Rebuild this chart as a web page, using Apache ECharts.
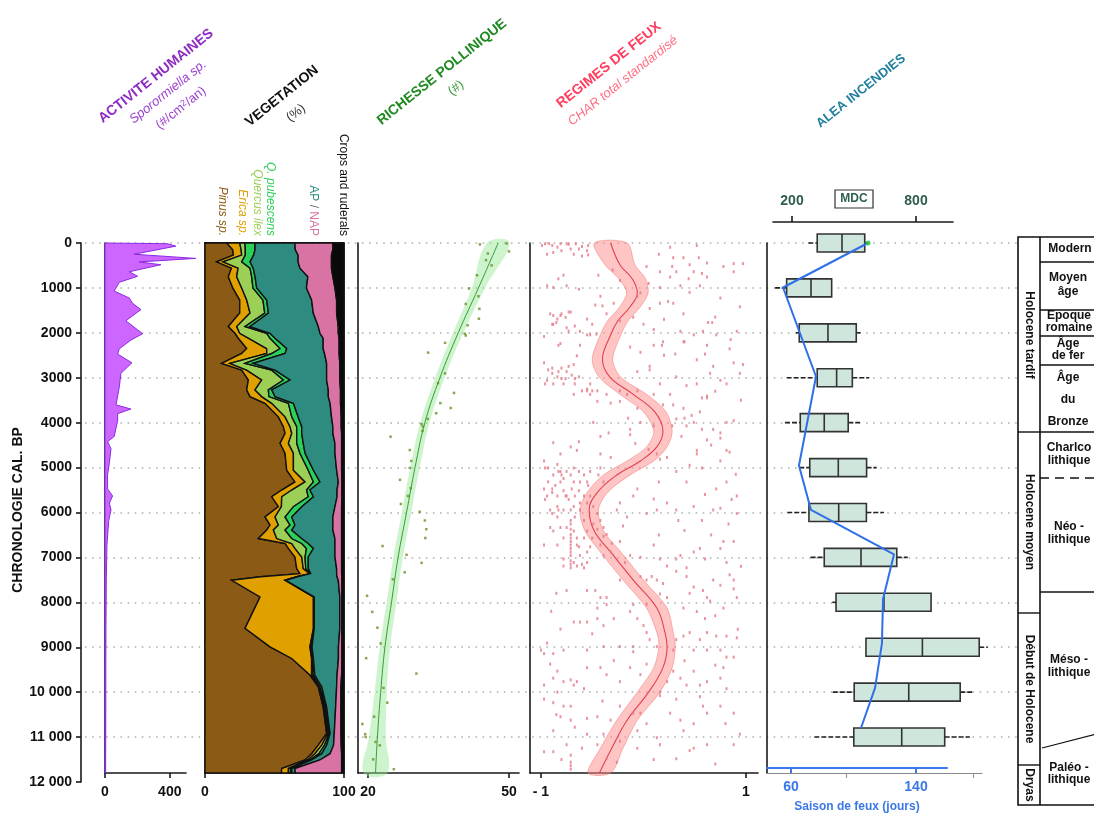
<!DOCTYPE html>
<html><head><meta charset="utf-8">
<script src="https://cdn.jsdelivr.net/npm/echarts@6.0.0/dist/echarts.min.js"></script>
<style>html,body{margin:0;padding:0;background:#fff}#c{width:1094px;height:818px}</style>
</head><body><div id="c"></div>
<script>
// ---------------- DATA ----------------
const chronoTicks = [0,1000,2000,3000,4000,5000,6000,7000,8000,9000,10000,11000,12000];

// Sporormiella sp. (#/cm2/an)
const sporAge = [0,16,70,250,343,421,484,640,741,874,1069,1225,1342,1482,1732,2020,2161,2356,2473,2668,2902,3214,3604,3697,3799,3955,4306,4423,4579,4891,5164,5476,5632,5788,5944,6178,6724,7500,8500,9500,10500,11500,11800];
const sporVal = [0,386,437,180,560,211,345,150,201,88,57,150,170,222,129,232,160,88,78,166,98,88,68,160,78,78,57,16,37,27,16,16,47,27,37,23,12,8,6,5,5,4,4];

// Vegetation (%), cumulative upper limit of each stacked taxon
const vegAge      = [0,150,270,420,560,750,1000,1270,1560,1860,2010,2120,2350,2460,2680,2830,3050,3270,3420,3570,3870,4090,4240,4460,4680,5060,5320,5500,5650,5870,6100,6280,6390,6580,6690,6800,6990,7250,7360,7430,7510,7880,8580,8990,9250,9620,9880,10330,10920,11180,11370,11510,11700,11800];
const pinusTop    = [15.6,20,20.4,8.4,19,16.8,20,25,25,16.8,21.6,24,30,26.4,12,26.4,31.2,30,32.4,43.2,52.8,56.4,57.6,54,57.6,58.8,64.7,55.2,48,52.8,43.2,46.8,44.4,38.4,57.6,60,64.7,66,68.3,40,19.2,39.6,28.8,46.8,62.4,75.5,81.5,85,87.5,81.5,76.7,72,55.2,55];
const ericaTop    = [25,26,26.4,13,23.8,22.8,26.4,30,32.4,22.8,25,31.2,44.4,44.4,18,30,40.8,36,40.8,48,57.6,61.2,62.4,60,63.6,63.6,72,62.4,55.2,55,50.4,52.8,49.2,51.6,62.4,64.7,69.6,70.7,75.5,66,57.6,78,78,75.5,76.7,76.7,82,86,88.5,84,79,74,60,60];
const qIlexTop    = [28.8,29,29,26.4,32.4,33.6,34.5,41.7,43,28.8,44.4,46.8,54,48,28.8,48,56.4,45.6,46,60,62.4,66,66,66,68.3,74.3,78,73.1,74.3,63.6,57.6,61.2,57.6,62.4,69.6,73,72,72.5,75.8,66.3,57.9,78.3,78.3,76.5,77.5,77.8,82.7,86.8,89.3,86,82,75.5,61.5,61.5];
const qPubTop     = [36,36,35,32.4,34.7,36,37.2,44.4,45.6,32.4,46.8,50.4,58.8,57.6,34.7,50.4,61.2,48,50.4,63.6,67,69.6,69.6,70.7,72,78,82.7,75.5,78,69.6,62.4,64.7,62.4,69.6,74.3,78,74.3,74.3,76,66.6,58.2,78.6,78.6,77,78,79,84,87.5,90,87.5,84,76.7,62.4,62.4];
const apTop       = [64.7,65,67,67,68.3,74,73,76.7,77.9,81.5,82.7,85,85,86,87.5,87.5,87.5,88.7,88.7,90,91,92,92,93.5,93.5,94.7,95.9,95,95,93.5,92,92,92,93.5,93.5,93.5,93.5,94.7,94.7,95,95.9,97,97,96,96,95,94.7,94,93,92.5,90,82.7,64.7,65];
const napTop      = [92,92,91,91,91,92,93.5,94.7,94.7,95.9,95.9,96.5,96.5,96.5,97,97,97,97.5,97.5,97.5,98,98,98.3,98.3,98.3,98.3,98.5,98.5,98.5,98.3,98.3,98.3,98.3,98.3,98.3,98.3,98.3,98.3,98.3,98.5,98.5,98.5,98.5,98.5,98.5,98.3,97.8,97.8,97.8,98,98.3,98.3,98.3,98.3];

// Richesse pollinique (#)
const richAge  = [0,1000,2000,3000,4000,5000,6000,7000,8000,9000,10000,11000,11800];
const richFit  = [47.7,43.5,39.2,35.3,32.1,30.0,28.2,26.4,25.0,23.6,22.7,22.0,21.6];
const richLow  = [45.3,42.1,38.1,34.3,31.1,29.0,27.2,25.4,23.95,22.5,21.4,20.2,19.1];
const richHigh = [50.1,44.9,40.3,36.3,33.1,31.0,29.2,27.4,26.05,24.7,24.0,23.8,24.1];
const richPoints = [[43.8,31],[49.5,10],[50.0,187],[45.5,234],[45.1,382],[46.3,499],[43.2,718],[41.5,1014],[43.5,1186],[40.8,1357],[43.7,1466],[43.6,1685],[41.2,1833],[40.6,2020],[40.8,2059],[36.4,2223],[32.8,2441],[36.4,2902],[34.9,3120],[38.3,3338],[35.4,3565],[37.6,3674],[34.5,3791],[32.7,3916],[31.4,4033],[31.7,4087],[31.6,4181],[24.8,4313],[28.9,4610],[29.2,4852],[28.9,5008],[26.8,5273],[29.1,5460],[28.5,5632],[27.0,5811],[31.0,5983],[32.1,6178],[32.4,6373],[32.2,6568],[23.1,6747],[28.2,6942],[31.4,7121],[27.8,7332],[25.3,7488],[19.8,7855],[20.9,8213],[22.0,8564],[22.7,8915],[19.6,9243],[30.3,9586],[23.3,9906],[24.1,10234],[21.3,10546],[18.8,10709],[19.4,10936],[19.5,10998],[21.6,11107],[22.5,11185],[21.1,11497],[25.5,11716]];

// Regimes de feux: CHAR total standardise
const fireAge  = [0,484,796,1108,1420,1732,2044,2590,2980,3370,3760,4189,4540,4852,5164,5554,5944,6412,6880,7504,8128,8674,8986,9454,10000,10624,11248,11800];
const fireFit  = [-0.32,-0.23,-0.11,-0.06,-0.13,-0.25,-0.32,-0.40,-0.33,-0.10,0.11,0.19,0.13,-0.03,-0.26,-0.45,-0.53,-0.48,-0.32,-0.10,0.13,0.21,0.23,0.19,0.05,-0.16,-0.31,-0.43];
const fireLow  = [-0.48,-0.376,-0.24,-0.165,-0.23,-0.35,-0.42,-0.50,-0.435,-0.23,0.0,0.10,0.03,-0.16,-0.39,-0.55,-0.62,-0.57,-0.42,-0.20,0.03,0.13,0.15,0.10,-0.06,-0.26,-0.42,-0.54];
const fireHigh = [-0.16,-0.084,0.02,0.045,-0.03,-0.15,-0.22,-0.30,-0.225,0.03,0.22,0.28,0.23,0.10,-0.13,-0.35,-0.44,-0.39,-0.22,0.0,0.23,0.29,0.31,0.28,0.16,-0.06,-0.20,-0.32];
const charPoints = [
[-0.96,16],[-0.89,55],[-0.81,16],[-0.73,31],[-0.71,133],[-0.80,172],[-0.88,211],[-0.94,250],[-0.68,250],[-0.60,289],[-0.54,265],[-0.60,78],[-0.78,718],[-0.83,796],[-0.94,952],[-0.88,991],[-0.75,952],[-0.63,1030],[-0.44,718],[-0.23,835],[0.26,94],[0.29,328],[0.39,328],[0.45,484],[0.54,328],[0.62,445],[0.78,523],[0.88,460],[0.97,460],[0.16,640],[0.26,757],[0.32,640],[0.49,640],[0.57,679],[0.62,757],[0.88,640],[0.03,523],[0.15,250],[0.28,523],[0.44,796],[0.75,1225],[0.55,952],[0.36,952],[0.16,991],
[-0.42,1186],[-0.47,1381],[-0.36,1576],[-0.55,1693],[-0.62,1966],[-0.71,1537],[-0.76,1654],[-0.81,1615],[-0.88,1615],[-0.89,1810],[-0.85,1771],[-0.75,1888],[-0.67,1849],[-0.97,2083],[-0.81,2239],[-0.73,1966],[-0.50,1810],[-0.52,2044],[-0.46,2028],[-0.29,1342],[-0.23,1732],[-0.10,1654],[-0.06,1186],[-0.03,1108],[0.06,1459],[0.16,1342],[0.24,1303],[0.29,1342],[0.39,1576],[0.63,1771],[0.67,1771],[0.94,1420],[0.71,2044],[0.58,1966],[0.40,2200],[0.49,2044],[0.19,2200],[0.10,2278],[0.36,1966],[0.91,1966],[0.0,1810],[0.10,1927],
[-0.83,2278],[-0.62,2278],[-0.55,2044],[-0.13,2317],[-0.03,2434],[0.18,2278],[0.31,2473],[0.39,2200],[0.60,2473],[0.84,2356],[0.62,2278],[-0.06,2863],[0.06,2746],[-0.65,2512],[-0.68,2707],[-0.73,2746],[-0.84,2980],[-0.89,2902],[-0.94,3058],[-0.80,3019],[-0.78,3136],[-0.88,3136],[-0.96,3136],[-0.70,2941],[-0.67,3019],[-0.60,3292],[-0.52,3136],[-0.50,3292],[-0.45,3526],[-0.36,3370],[-0.23,3292],[-0.16,3370],[0.06,2824],[0.16,3136],[0.32,2980],[0.42,3175],[0.52,3136],[0.65,2902],[0.75,3058],[0.81,3136],[0.94,2902],[0.97,2707],[0.88,2668],[0.68,2746],[0.57,3448],[0.62,3409],[0.26,3370],[0.10,3370],[-0.06,3292],
[-0.55,3253],[-0.32,3565],[-0.23,3526],[-0.06,3682],[0.19,3604],[0.29,3604],[0.39,3682],[0.47,3838],[0.55,3760],[0.49,3994],[0.62,3448],[0.68,4150],[0.75,4228],[0.81,3994],[0.88,3955],[0.42,4072],[0.37,4306],[0.32,3916],[0.57,4150],[0.28,4072],[0.10,4072],[-0.03,3994],[-0.13,4150],[-0.49,3994],[-0.34,4228],[-0.42,4306],[-0.63,4423],[-0.71,4540],[-0.81,4696],[-0.88,4446],[-0.65,4618],[-0.13,4267],[-0.08,4462],[0.75,4345],[0.81,4618],[0.52,4696],[0.23,4774],
[-0.97,4852],[-0.93,5008],[-0.84,4930],[-0.83,5086],[-0.80,5164],[-0.75,5086],[-0.71,5164],[-0.68,5008],[-0.63,5086],[-0.58,5164],[-0.55,5320],[-0.52,5086],[-0.42,5008],[-0.32,4774],[-0.42,4696],[-0.44,5164],[-0.39,5320],[0.13,4696],[0.16,4813],[0.52,4618],[0.62,4384],[0.84,4657],[0.75,4852],[0.42,5320],[0.32,5086],[0.15,5320],[-0.06,5476],[0.57,5008],[0.71,5476],[0.81,5320],[0.91,5632],[0.86,5710],
[-0.97,5476],[-0.94,5632],[-0.96,5710],[-0.89,5554],[-0.84,5632],[-0.86,5398],[-0.81,5320],[-0.78,5515],[-0.75,5632],[-0.68,5320],[-0.62,5320],[-0.54,5398],[-0.84,5866],[-0.83,5944],[-0.91,5944],[-0.89,6022],[-0.91,6334],[-0.88,6412],[-0.78,5944],[-0.71,5944],[-0.71,6178],[-0.71,6373],[-0.71,6568],[-0.67,6100],[-0.62,5788],[-0.58,6178],[-0.49,5866],[-0.45,6022],[-0.42,6178],[-0.39,6334],[-0.36,6490],[-0.26,5944],[-0.23,5788],[-0.16,6100],[-0.10,5632],[0.03,6022],[0.13,5944],[0.23,5788],[0.32,5944],[0.34,6178],[0.49,5866],[0.57,6178],[0.68,5944],[0.75,5905],[0.83,6256],[0.91,6022],
[-0.97,6724],[-0.84,6724],[-0.71,6724],[-0.71,6880],[-0.71,7075],[-0.71,7231],[-0.78,7036],[-0.68,7114],[-0.65,6568],[-0.63,6763],[-0.62,6958],[-0.60,7153],[-0.58,7231],[-0.55,6880],[-0.52,6763],[-0.50,6568],[-0.45,6373],[-0.39,6529],[-0.32,6880],[-0.31,6685],[-0.23,6646],[-0.18,7114],[-0.13,6958],[-0.03,6997],[0.10,6724],[0.16,7036],[0.23,7192],[0.32,7036],[0.36,6958],[0.42,7231],[0.49,6880],[0.60,7036],[0.75,6802],[0.78,6646],[0.81,7114],[0.88,6646],[0.84,7387],[0.88,7504],
[-0.71,6256],[-0.71,6490],[-0.71,6646],[-0.71,6802],[-0.71,6958],[-0.71,7153],
[-0.75,7738],[-0.55,7738],[-0.47,7738],[-0.42,7894],[-0.36,7894],[-0.36,8050],[-0.45,8128],[-0.23,7504],[-0.03,7426],[0.03,7504],[0.08,7426],[0.13,7504],[0.19,7582],[0.32,7309],[0.42,7426],[0.49,7660],[0.58,7738],[0.62,7894],[0.65,7972],[0.68,7504],[0.75,7621],[0.88,7699],[0.91,7894],[0.16,7816],[0.23,7894],[-0.10,8050],[0.03,8050],[0.39,8128],[0.52,8206],[0.60,8362],[0.78,8128],[-0.81,8596],[-0.62,8440],
[-0.94,8908],[-0.68,8440],[-0.55,8440],[-0.45,8362],[-0.39,8518],[-0.29,8362],[-0.13,8206],[-0.06,8362],[0.0,8518],[0.03,8674],[0.06,8830],[0.13,8986],[0.32,8830],[0.39,8752],[0.45,8674],[0.55,8830],[0.62,8674],[0.71,8752],[0.81,8752],[0.91,8791],[0.29,9064],[0.49,9064],[0.62,9064],[0.75,9064],[0.88,9220],[0.78,9454],[-1.0,9064],[-0.88,9142],[-0.78,9064],[-0.55,9064],[-0.39,8986],[-0.23,8986],[-0.10,8986],
[-0.97,9142],[-0.91,9376],[-0.84,9532],[-0.97,9844],[-0.88,9688],[-0.78,9766],[-0.71,9727],[-0.65,9766],[-0.68,9844],[-0.84,10000],[-0.58,9922],[-0.55,9454],[-0.42,9454],[-0.36,9610],[-0.29,9298],[-0.23,9766],[-0.13,9454],[-0.03,9610],[0.03,9376],[0.29,9532],[0.36,9688],[0.42,9844],[0.49,9532],[0.55,9844],[0.62,9766],[0.75,9688],[0.81,9922],[0.81,9220],[0.23,9766],[0.16,10000],
[-0.97,10156],[-0.88,10234],[-0.78,10312],[-0.71,10312],[-0.81,10546],[-0.88,10858],[-0.71,10624],[-0.67,10780],[-0.55,10585],[-0.45,10546],[-0.39,10936],[-0.32,10624],[-0.23,10312],[-0.10,10468],[-0.03,10468],[0.03,10702],[0.16,10078],[0.26,10468],[0.32,10156],[0.36,10624],[0.49,10702],[0.58,10312],[0.62,10468],[0.75,10312],[0.88,10468],[0.94,10936],[0.13,11014],[0.39,10858],[-0.06,10858],[-0.55,10936],
[-0.97,11326],[-0.88,11326],[-0.75,11170],[-0.71,11404],[-0.71,11560],[-0.71,11716],[-0.71,11638],[-0.60,11248],[-0.45,11170],[-0.36,11482],[-0.23,11092],[-0.06,11248],[0.16,11170],[0.32,11482],[0.49,11248],[0.62,11170],[-0.26,11560],[0.88,11170],
[-0.99,55],[-0.92,16],[-0.84,94],[-0.75,16],[-0.66,16],[-0.63,133],[-0.55,172],[-0.54,55],[0.52,55],
[-0.91,1576],[-0.88,1810],[-0.84,1693],[-0.80,1576],[-0.73,1537],
[-0.97,2668],[-0.93,2824],[-0.89,2785],[-0.83,2863],[-0.80,2785],[-0.76,3019],[-0.75,2863],[-0.67,3136],[-0.63,2980],[-0.55,3292],[-0.52,3370],[-0.45,3292],[-0.68,3370],
[-0.96,5008],[-0.93,5320],[-0.89,5476],[-0.88,5164],[-0.81,5086],[-0.78,5242],[-0.76,5632],[-0.73,5710],[-0.70,5476],[-0.67,5632],[-0.63,5515],[-0.58,5632],[-0.55,5788],[-0.52,5632],[-0.62,5944],[-0.68,5866],
[-0.84,6100],[-0.81,6334],[-0.78,6568],[-0.75,6334],[-0.68,6412],[-0.65,6724],[-0.58,6568],[-0.55,6412],[-0.49,6256],[-0.42,6724],[-0.39,6958],[-0.78,7192],[-0.65,7192],[-0.55,7114],
[0.45,1100],[0.70,1650],[0.85,2150],[0.52,2600],[0.70,3300],[0.95,3500],[0.40,3900],[0.66,4500],[0.45,4950],[0.90,5150],[0.60,5600],[0.40,6400],[0.66,6500],[0.55,6800],[0.95,7200],[0.45,7800],[0.70,8300],[0.92,8600],[0.40,9300],[0.70,9400],[0.55,10100],[0.80,10700],[0.45,11300],[0.70,11600],[-0.10,9100],[-0.40,10200],[-0.85,10500],[-0.80,11500],[-0.50,8700],[-0.90,8200],[-0.85,7800],[0.10,11500],[-0.15,3900],[-0.40,1400],[-0.30,600],[0.05,900],[0.20,1700],[0.20,2500],[0.05,4600],[0.10,5700],[-0.20,6300],[0.15,6500]];

// Alea incendies: MDC boxplots per millennium
const boxAge = [0,1000,2000,3000,4000,5000,6000,7000,8000,9000,10000,11000];
const boxMin = [279,118,219,174,166,235,177,290,395,558,397,308];
const boxQ1  = [322,174,235,322,240,286,282,356,413,558,501,499];
const boxMed = [442,292,374,416,356,424,426,534,645,831,765,731];
const boxQ3  = [552,392,511,492,472,561,560,707,873,1106,1014,939];
const boxMax = [560,392,532,574,529,610,645,760,873,1147,1077,1061];
// Saison de feux (jours)
const seasonAge  = [0,1000,3000,5000,6000,7000,8000,9000,10000,10900];
const seasonDays = [109.3,54.9,76.0,65.1,72.8,125.9,118.9,118.2,113.8,104.8];

// ---------------- CHART ----------------
const FONT = '"Liberation Sans", Arial, Helvetica, sans-serif';
const chart = echarts.init(document.getElementById('c'), null, {renderer:'canvas'});

const grids = [
  {left:81,  top:243, width:1,   height:539}, //0 chronology
  {left:85,  top:243, width:932, height:494}, //1 dotted background
  {left:105, top:243, width:81,  height:530}, //2 sporormiella
  {left:205, top:243, width:139, height:530}, //3 vegetation
  {left:358, top:243, width:161, height:530}, //4 richesse
  {left:530, top:243, width:228, height:530}, //5 feux
  {left:767, top:243, width:243, height:530}, //6 boxes (MDC)
  {left:767, top:243, width:180, height:530}, //7 saison (days)
  {left:767, top:243, width:215, height:530}, //8 grey axis
  {left:773, top:222, width:180, height:551}  //9 MDC top axis
];

const blackLine = {show:true, onZero:false, lineStyle:{color:'#1a1a1a', width:1.6}};
function panelY(g, extra){ return Object.assign({gridIndex:g, type:'value', inverse:true, min:0, max:11800,
  axisLine:blackLine, axisTick:{show:false}, axisLabel:{show:false}, splitLine:{show:false}}, extra||{}); }
function bottomX(g, min, max, vals, extra){
  return Object.assign({gridIndex:g, type:'value', min, max, position:'bottom',
    axisLine:blackLine,
    axisTick:{show:true, length:5, customValues:vals, lineStyle:{color:'#1a1a1a', width:1.6}},
    axisLabel:{show:true, customValues:vals, color:'#111', fontSize:14, fontWeight:'bold', fontFamily:FONT, margin:12},
    splitLine:{show:false}}, extra||{});
}
const hiddenX = (g,min,max)=>({gridIndex:g, type:'value', min, max, show:false});
const hiddenY = (g,min,max)=>({gridIndex:g, type:'value', inverse:true, min, max, show:false});

const xAxis = [
  hiddenX(0,0,1),                                        //0
  hiddenX(1,0,1),                                        //1
  bottomX(2,0,500,[0,400]),                              //2
  bottomX(3,0,100,[0,100]),                              //3
  bottomX(4,17.87,52.13,[20,50]),                        //4
  bottomX(5,-1.107,1.117,[-1,1],{axisLabel:{show:true, customValues:[-1,1], color:'#111', fontSize:14, fontWeight:'bold', fontFamily:FONT, margin:12,
      formatter:v=> v<0 ? '- '+Math.abs(v) : String(v)}}),  //5
  hiddenX(6,79,1255),                                    //6
  bottomX(7,44.64,159.84,[60,140],{z:3,
      axisLine:{show:true,onZero:false,lineStyle:{color:'#3b78e7',width:2}},
      axisTick:{show:true,length:5,customValues:[60,140],lineStyle:{color:'#3b78e7',width:2}},
      axisLabel:{show:true,customValues:[60,140],color:'#3b78e7',fontSize:14,fontWeight:'bold',fontFamily:FONT,margin:12},
      name:'Saison de feux (jours)', nameLocation:'middle', nameGap:33,
      nameTextStyle:{color:'#3b78e7', fontSize:12, fontWeight:'bold', fontFamily:FONT}}), //7
  bottomX(8,44.64,182.24,[95.2,176.5],{z:1,
      axisLine:{show:true,onZero:false,lineStyle:{color:'#888',width:1.2}},
      axisTick:{show:true,length:5,customValues:[95.2,176.5],lineStyle:{color:'#999',width:1.2}},
      axisLabel:{show:false}}),                          //8
  {gridIndex:9, type:'value', min:108.1, max:979, position:'top',
      axisLine:{show:true,onZero:false,lineStyle:{color:'#1a1a1a',width:1.6}},
      axisTick:{show:true,length:6,customValues:[200,800],lineStyle:{color:'#1a1a1a',width:1.6}},
      axisLabel:{show:true,customValues:[200,800],color:'#2e5e4e',fontSize:14,fontWeight:'bold',fontFamily:FONT,margin:14},
      splitLine:{show:false}},                           //9
  {gridIndex:3, type:'value', min:0, max:100, position:'top',
      axisLine:{show:true,onZero:false,lineStyle:{color:'#111',width:2.2,type:[5,2]}},
      axisTick:{show:false}, axisLabel:{show:false}, splitLine:{show:false}} //10 dashed top of vegetation
];

const yAxis = [
  {gridIndex:0, type:'value', inverse:true, min:0, max:12000, interval:1000, position:'left',
    axisLine:blackLine, axisTick:{show:true, length:5, lineStyle:{color:'#1a1a1a', width:1.6}},
    axisLabel:{color:'#111', fontSize:14, fontWeight:'bold', fontFamily:FONT, margin:9,
      formatter:v=> v>=10000 ? String(v).replace(/(\d+)(\d{3})$/,'$1 $2') : String(v)},
    splitLine:{show:false}},                                  //0
  {gridIndex:1, type:'value', inverse:true, min:0, max:11000, interval:1000,
    axisLine:{show:false}, axisTick:{show:false}, axisLabel:{show:false},
    splitLine:{show:true, lineStyle:{color:'#b0b0b0', width:1.6, type:[1.6,5.5]}}}, //1
  panelY(2), panelY(3), panelY(4), panelY(5), panelY(6),   //2..6
  hiddenY(7,0,11800), hiddenY(8,0,11800), hiddenY(9,-400,11800), //7..9
  panelY(3,{position:'right'})                              //10 right border vegetation
];

function polygonSeries(xi, yi, buildPts, style, smooth){
  return {type:'custom', xAxisIndex:xi, yAxisIndex:yi, data:[[0]], silent:true, z:2,
    renderItem:(params, api)=>{
      if (params.dataIndex>0) return null;
      const pts = buildPts().map(p=>api.coord(p));
      return {type:'polygon', shape:{points:pts, smooth:smooth||0}, style:style};
    }};
}

const sporPoly = polygonSeries(2,2,()=>{
  const p = sporAge.map((a,i)=>[sporVal[i], a]);
  return [[0,0]].concat(p).concat([[0,sporAge[sporAge.length-1]]]);
},{fill:'#cc66ff', stroke:'#8a2be2', lineWidth:1});

const vegBounds = [vegAge.map(()=>0), pinusTop, ericaTop, qIlexTop, qPubTop, apTop, napTop, vegAge.map(()=>100)];
const vegColors = ['#8b5a14','#e0a000','#9ccf55','#2bd05a','#2e8b80','#d873a4','#0a0a0a'];
const vegSeries = vegColors.map((col,k)=>polygonSeries(3,3,()=>{
  const up = vegAge.map((a,i)=>[vegBounds[k+1][i], a]);
  const lo = vegAge.map((a,i)=>[vegBounds[k][i], a]).reverse();
  return up.concat(lo);
},{fill:col, stroke:'#111', lineWidth:1.4}));

const richBand = polygonSeries(4,4,()=>{
  return richAge.map((a,i)=>[richHigh[i],a]).concat(richAge.map((a,i)=>[richLow[i],a]).reverse());
},{fill:'rgba(144,230,144,0.45)'}, 0.4);
const fireBand = polygonSeries(5,5,()=>{
  return fireAge.map((a,i)=>[fireHigh[i],a]).concat(fireAge.map((a,i)=>[fireLow[i],a]).reverse());
},{fill:'rgba(255,140,140,0.5)', stroke:'rgba(240,110,110,0.6)', lineWidth:0.8}, 0.3);

const boxSeries = {type:'custom', xAxisIndex:6, yAxisIndex:6, z:3, silent:true,
  data: boxAge.map((a,i)=>[a, boxMin[i], boxQ1[i], boxMed[i], boxQ3[i], boxMax[i]]),
  encode:{y:0, x:[1,2,3,4,5]},
  renderItem:(params, api)=>{
    const age=api.value(0);
    const pMin=api.coord([api.value(1),age]), pQ1=api.coord([api.value(2),age]),
          pMd=api.coord([api.value(3),age]), pQ3=api.coord([api.value(4),age]), pMx=api.coord([api.value(5),age]);
    const h=18, y=pQ1[1];
    const wh={stroke:'#222', lineWidth:1.6, lineDash:[5,2]};
    return {type:'group', children:[
      {type:'line', shape:{x1:pMin[0],y1:y,x2:pQ1[0],y2:y}, style:wh},
      {type:'line', shape:{x1:pQ3[0],y1:y,x2:pMx[0],y2:y}, style:wh},
      {type:'rect', shape:{x:pQ1[0], y:y-h/2, width:pQ3[0]-pQ1[0], height:h}, style:{fill:'#cfe6dc', stroke:'#333', lineWidth:1.6}},
      {type:'line', shape:{x1:pMd[0],y1:y-h/2,x2:pMd[0],y2:y+h/2}, style:{stroke:'#333', lineWidth:1.6}}
    ]};
  }};

const series = [
  {type:'line', xAxisIndex:1, yAxisIndex:1, data:[], silent:true},
  sporPoly,
  ...vegSeries,
  richBand,
  {type:'line', xAxisIndex:4, yAxisIndex:4, data:richAge.map((a,i)=>[richFit[i],a]), smooth:0.4,
    showSymbol:false, silent:true, lineStyle:{color:'#3a9a3a', width:1}, z:3},
  {type:'scatter', xAxisIndex:4, yAxisIndex:4, data:richPoints, symbol:'rect', symbolSize:2.5,
    itemStyle:{color:'#6b8e23'}, silent:true, z:4},
  fireBand,
  {type:'line', xAxisIndex:5, yAxisIndex:5, data:fireAge.map((a,i)=>[fireFit[i],a]), smooth:0.4,
    showSymbol:false, silent:true, lineStyle:{color:'#e0404f', width:1.1}, z:3},
  {type:'scatter', xAxisIndex:5, yAxisIndex:5, data:charPoints, symbol:'rect', symbolSize:[2,3],
    itemStyle:{color:'#e27884'}, silent:true, z:4},
  boxSeries,
  {type:'line', xAxisIndex:7, yAxisIndex:7, data:seasonAge.map((a,i)=>[seasonDays[i],a]),
    showSymbol:false, silent:true, lineStyle:{color:'#2f6fe8', width:2}, z:5, clip:false},
  {type:'scatter', xAxisIndex:7, yAxisIndex:7, data:[[seasonDays[0], seasonAge[0]]], symbolSize:5,
    itemStyle:{color:'#22c03a'}, silent:true, z:6, clip:false}
];

// ---------------- TEXT / ANNOTATIONS ----------------
const R = 38.5*Math.PI/180;
function t(x,y,text,fill,size,weight,style,rot,align,lh){
  return {type:'text', x, y, rotation:rot||0, z:100, silent:true,
    style:{text, fill, fontSize:size, fontWeight:weight||'normal', fontStyle:style||'normal', fontFamily:FONT,
      align:align||'center', verticalAlign:'middle', lineHeight:lh||undefined}};
}
const V = -Math.PI/2;
const graphic = [
  t(18,510,'CHRONOLOGIE CAL. BP','#111',14,'bold','normal',Math.PI/2),
  t(156,76,'ACTIVITE HUMAINES','#8e2bc4',14,'bold','normal',R),
  t(168,92,'Sporormiella sp.','#9b3fd0',13,'normal','italic',R),
  {type:'text', x:181, y:108, rotation:R, z:100, silent:true,
    style:{text:'(#/cm{s|2}/an)', fill:'#9b3fd0', fontSize:13, fontFamily:FONT, align:'center', verticalAlign:'middle',
      rich:{s:{fontSize:9, fill:'#9b3fd0', verticalAlign:'top', fontFamily:FONT}}}},
  t(282,96,'VEGETATION','#111',14,'bold','normal',R),
  t(296,113,'(%)','#333',13,'normal','normal',R),
  t(442,72,'RICHESSE POLLINIQUE','#1f8a1f',14,'bold','normal',R),
  t(456,88,'(#)','#3a9a3a',13,'normal','normal',R),
  t(609,65,'REGIMES DE FEUX','#ff3d5e',14,'bold','normal',R),
  t(623,81,'CHAR total standardisé','#ff6f82',13,'normal','italic',R),
  t(861,91,'ALEA INCENDIES','#1f7f9f',13,'bold','normal',R),
  t(222,236,'Pinus sp.','#8b5a14',12,'normal','italic',V,'right'),
  t(242,236,'Erica sp.','#e0a000',12,'normal','italic',V,'right'),
  t(257,236,'Quercus ilex','#9ccf55',12,'normal','italic',V,'right'),
  t(270,236,'Q. pubescens','#2bd05a',12,'normal','italic',V,'right'),
  {type:'text', x:313, y:236, rotation:V, z:100, silent:true,
    style:{text:'{a|AP} {b|/} {c|NAP}', fontSize:12, fontFamily:FONT, align:'right', verticalAlign:'middle',
      rich:{a:{fill:'#2e8b80',fontSize:12,fontFamily:FONT}, b:{fill:'#666',fontSize:12,fontFamily:FONT}, c:{fill:'#d873a4',fontSize:12,fontFamily:FONT}}}},
  t(343,236,'Crops and ruderals','#111',12,'normal','normal',V,'right'),
  {type:'rect', shape:{x:835, y:190, width:38, height:18}, style:{fill:'#fff', stroke:'#333', lineWidth:1.2}, z:100, silent:true},
  t(854,199,'MDC','#2e5e4e',12,'bold'),
  {type:'rect', shape:{x:1018, y:237, width:120, height:568}, style:{fill:'none', stroke:'#111', lineWidth:1.6}, z:100, silent:true},
  {type:'line', shape:{x1:1040,y1:237,x2:1040,y2:805}, style:{stroke:'#111', lineWidth:1.6}, z:100, silent:true},
  ...[432,613,765].map(y=>({type:'line', shape:{x1:1018,y1:y,x2:1040,y2:y}, style:{stroke:'#111', lineWidth:1.4}, z:100, silent:true})),
  ...[262,310,336,365,432,592].map(y=>({type:'line', shape:{x1:1040,y1:y,x2:1100,y2:y}, style:{stroke:'#111', lineWidth:1.4}, z:100, silent:true})),
  {type:'line', shape:{x1:1040,y1:478,x2:1100,y2:478}, style:{stroke:'#111', lineWidth:1.4, lineDash:[9,6]}, z:100, silent:true},
  {type:'line', shape:{x1:1042,y1:748,x2:1100,y2:733}, style:{stroke:'#111', lineWidth:1.2}, z:100, silent:true},
  t(1029,335,'Holocene tardif','#111',12,'bold','normal',V),
  t(1029,522,'Holocene moyen','#111',12,'bold','normal',V),
  t(1029,689,'Début de Holocene','#111',12,'bold','normal',V),
  t(1029,785,'Dryas','#111',12,'bold','normal',V),
  t(1070,249,'Modern','#111',12,'bold'),
  t(1068,285,'Moyen\nâge','#111',12,'bold','normal',0,'center',14),
  t(1069,322,'Epoque\nromaine','#111',12,'bold','normal',0,'center',12),
  t(1068,350,'Âge\nde fer','#111',12,'bold','normal',0,'center',12),
  t(1068,400,'Âge\ndu\nBronze','#111',12,'bold','normal',0,'center',22),
  t(1069,454,'Charlco\nlithique','#111',12,'bold','normal',0,'center',13),
  t(1069,533,'Néo -\nlithique','#111',12,'bold','normal',0,'center',13),
  t(1069,666,'Méso -\nlithique','#111',12,'bold','normal',0,'center',13),
  t(1069,774,'Paléo -\nlithique','#111',12,'bold','normal',0,'center',12)
];

chart.setOption({animation:false, backgroundColor:'#fff', grid:grids, xAxis, yAxis, series, graphic});
</script></body></html>
